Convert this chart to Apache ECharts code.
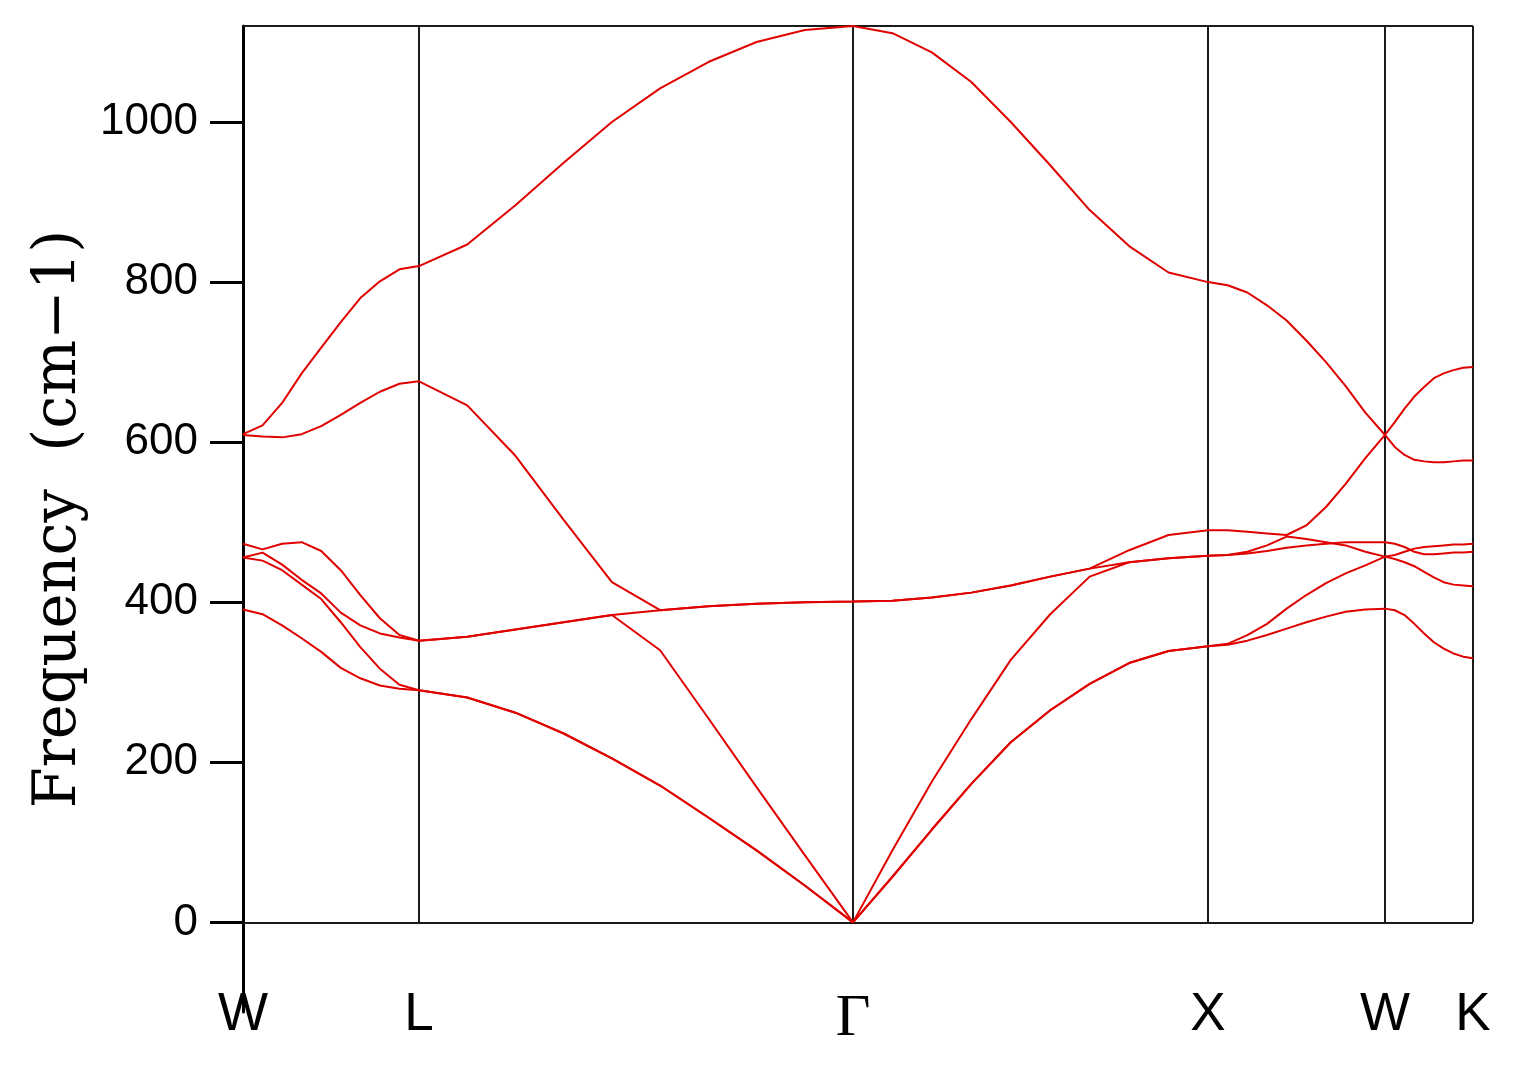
<!DOCTYPE html>
<html>
<head>
<meta charset="utf-8">
<title>Phonon dispersion</title>
<script src="https://cdn.jsdelivr.net/npm/echarts@6/dist/echarts.min.js"></script>
<style>
  html, body { margin: 0; padding: 0; background: #fff; }
  #chart { width: 1521px; height: 1069px; }
</style>
</head>
<body>
<div id="chart"></div>
<script>
// high-symmetry points along the path (distance along k-path)
const kTicks = [0, 176, 610, 965, 1142, 1230];
const kLabels = ['W', 'L', 'Γ', 'X', 'W', 'K'];
const pointsPerSegment = 10;

const yTicks = [0, 200, 400, 600, 800, 1000];

// phonon branches, W-L | L-Γ | Γ-X | X-W | W-K (10 samples per segment)
const band1 = [391, 385, 371, 355, 338, 318, 305, 296, 292, 290,
  290, 281, 262, 236, 205, 171, 131, 90, 46, 0,
  0, 57, 116, 173, 225, 265, 298, 324, 339, 345,
  345, 347, 352, 359, 367, 375, 382, 388, 391, 392,
  392, 390, 384, 373, 361, 350, 342, 336, 332, 330];
const band2 = [456, 452, 440, 422, 404, 375, 344, 317, 297, 290,
  290, 281, 262, 236, 205, 171, 131, 90, 46, 0,
  0, 57, 116, 173, 225, 265, 298, 324, 339, 345,
  345, 348, 359, 373, 392, 409, 424, 436, 446, 457,
  457, 459, 463, 467, 469, 470, 471, 472, 472, 473];
const band3 = [456, 462, 447, 428, 411, 387, 371, 361, 356, 352,
  352, 357, 366, 375, 384, 340, 255, 169, 84, 0,
  0, 90, 176, 254, 328, 385, 432, 450, 455, 458,
  458, 459, 461, 464, 468, 471, 473, 475, 475, 475,
  475, 473, 469, 463, 460, 460, 461, 462, 462, 463];
const band4 = [473, 466, 473, 475, 464, 440, 409, 380, 359, 352,
  352, 357, 366, 375, 384, 390, 395, 398, 400, 401,
  401, 402, 406, 412, 421, 432, 442, 450, 455, 458,
  458, 459, 463, 471, 482, 479, 475, 471, 463, 457,
  457, 454, 450, 445, 438, 431, 425, 422, 421, 420];
const band5 = [609, 607, 606, 610, 620, 634, 649, 663, 673, 676,
  676, 646, 583, 503, 425, 390, 395, 398, 400, 401,
  401, 402, 406, 412, 421, 432, 442, 465, 484, 490,
  490, 490, 488, 486, 484, 496, 519, 548, 580, 609,
  609, 594, 584, 578, 576, 575, 575, 576, 577, 577];
const band6 = [610, 621, 649, 686, 718, 750, 780, 801, 816, 820,
  820, 847, 896, 949, 1000, 1042, 1075, 1100, 1115, 1120,
  1120, 1111, 1087, 1050, 1000, 946, 890, 845, 812, 800,
  800, 796, 787, 771, 752, 727, 700, 670, 637, 609,
  609, 625, 642, 657, 669, 680, 686, 690, 693, 694];

const bands = [band1, band2, band3, band4, band5, band6];
const yMax = 1120;
const yMin = -112;

// k-path position of every sample (evenly spaced inside each segment)
function kPositions() {
  const xs = [];
  for (let s = 0; s < kTicks.length - 1; s++) {
    const a = kTicks[s], b = kTicks[s + 1];
    for (let i = 0; i < pointsPerSegment; i++) {
      xs.push(a + (b - a) * i / (pointsPerSegment - 1));
    }
  }
  return xs;
}
const kx = kPositions();

const frameStyle = { color: '#1a1a1a', width: 2, type: 'solid' };
const frameLines = [
  [{ coord: [kTicks[0], 0] }, { coord: [kTicks[kTicks.length - 1], 0] }],
  [{ coord: [kTicks[0], yMax] }, { coord: [kTicks[kTicks.length - 1], yMax] }],
];
kTicks.slice(1).forEach(function (k) {
  frameLines.push([{ coord: [k, 0] }, { coord: [k, yMax] }]);
});

const series = bands.map(function (band, i) {
  const s = {
    name: 'band' + (i + 1),
    type: 'line',
    data: band.map(function (v, j) { return [kx[j], v]; }),
    showSymbol: false,
    silent: true,
    lineStyle: { color: '#e00000', width: 2 },
    z: 3,
  };
  if (i === 0) {
    s.markLine = {
      silent: true,
      symbol: 'none',
      label: { show: false },
      lineStyle: frameStyle,
      data: frameLines,
      z: 2,
    };
  }
  return s;
});

const chart = echarts.init(document.getElementById('chart'));
chart.setOption({
  animation: false,
  backgroundColor: '#fff',
  grid: { left: 243, right: 48, top: 26, bottom: 57 },
  xAxis: {
    type: 'value',
    min: kTicks[0],
    max: kTicks[kTicks.length - 1],
    axisLine: { show: false },
    axisTick: { show: false },
    splitLine: { show: false },
    axisLabel: {
      customValues: kTicks,
      margin: -23,
      fontFamily: 'Liberation Sans',
      fontSize: 53,
      color: '#000',
      hideOverlap: false,
      formatter: function (v) {
        const t = kLabels[kTicks.indexOf(v)];
        return t === 'Γ' ? '{g|Γ}' : t;
      },
      rich: {
        g: { fontFamily: 'Liberation Serif', fontSize: 60, color: '#000' },
      },
    },
  },
  yAxis: {
    type: 'value',
    min: yMin,
    max: yMax,
    name: 'Frequency  (cm\u22121)',
    nameLocation: 'middle',
    nameGap: 152,
    nameTextStyle: { fontFamily: 'DejaVu Serif', fontSize: 59, color: '#000' },
    axisLine: { show: true, lineStyle: { color: '#000', width: 3 } },
    axisTick: {
      show: true,
      customValues: yTicks,
      length: 33,
      lineStyle: { color: '#000', width: 3 },
    },
    axisLabel: {
      customValues: yTicks,
      margin: 45,
      fontFamily: 'Liberation Sans',
      fontSize: 44,
      color: '#000',
      formatter: function (v) { return String(v); },
    },
    splitLine: { show: false },
  },
  series: series,
});
</script>
</body>
</html>
